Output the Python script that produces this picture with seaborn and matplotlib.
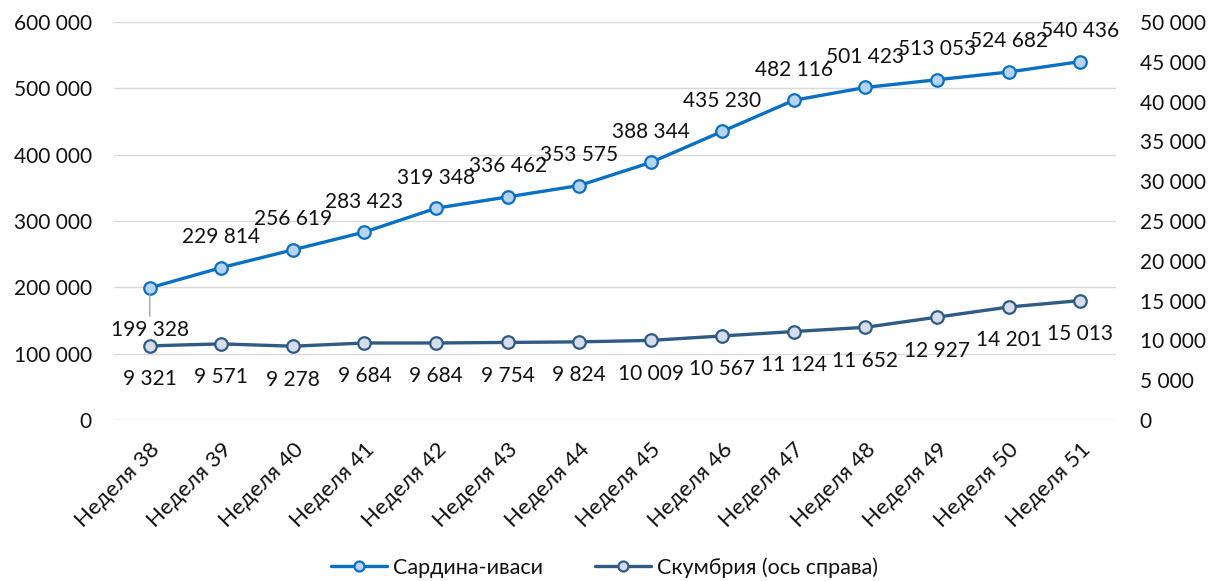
import matplotlib
matplotlib.use('Agg')
import matplotlib.pyplot as plt
import seaborn as sns
import pandas as pd
from matplotlib.ticker import FuncFormatter, MultipleLocator

# данные
weeks = ['Неделя 38', 'Неделя 39', 'Неделя 40', 'Неделя 41', 'Неделя 42', 'Неделя 43', 'Неделя 44',
         'Неделя 45', 'Неделя 46', 'Неделя 47', 'Неделя 48', 'Неделя 49', 'Неделя 50', 'Неделя 51']
sardine = [199328, 229814, 256619, 283423, 319348, 336462, 353575,
           388344, 435230, 482116, 501423, 513053, 524682, 540436]
mackerel = [9321, 9571, 9278, 9684, 9684, 9754, 9824,
            10009, 10567, 11124, 11652, 12927, 14201, 15013]
sardine_name = 'Сардина-иваси'
mackerel_name = 'Скумбрия (ось справа)'

df = pd.DataFrame({'week': weeks, 'sardine': sardine, 'mackerel': mackerel})

sns.set_style('white')
plt.rcParams['font.family'] = ['Lato', 'DejaVu Sans']
plt.rcParams['font.size'] = 15

c_sar = '#0A70C4'
c_mac = '#2F5B84'
txt = '#111111'

fig = plt.figure(figsize=(12.09, 5.81), dpi=100)
ax = fig.add_axes([0.0943, 0.277, 0.8287, 0.685])
ax2 = ax.twinx()

sns.lineplot(data=df, x='week', y='sardine', ax=ax, color=c_sar, linewidth=2.4,
             marker='o', markersize=9, markerfacecolor='#B7D3F2', markeredgecolor=c_sar,
             markeredgewidth=1.6, label=sardine_name, legend=False, zorder=3)
sns.lineplot(data=df, x='week', y='mackerel', ax=ax2, color=c_mac, linewidth=2.4,
             marker='o', markersize=9, markerfacecolor='#D5DDEA', markeredgecolor=c_mac,
             markeredgewidth=1.6, label=mackerel_name, legend=False, zorder=3)

fmt = FuncFormatter(lambda v, p: f'{int(v):,}'.replace(',', ' '))
ax.set_ylim(0, 600000)
ax.yaxis.set_major_locator(MultipleLocator(100000))
ax.yaxis.set_major_formatter(fmt)
ax2.set_ylim(0, 50000)
ax2.yaxis.set_major_locator(MultipleLocator(5000))
ax2.yaxis.set_major_formatter(fmt)
ax.set_xlim(-0.5, len(weeks) - 0.5)

ax.grid(axis='y', color='#D9D9D9', linewidth=1)
ax.set_axisbelow(True)
for a in (ax, ax2):
    for s in a.spines.values():
        s.set_visible(False)
    a.set_xlabel('')
    a.set_ylabel('')
ax.tick_params(axis='y', length=0, labelsize=15, colors=txt, pad=16)
ax.tick_params(axis='x', length=0, labelsize=16, colors=txt, pad=14)
ax2.tick_params(axis='y', length=0, labelsize=15, colors=txt, pad=17)
plt.setp(ax.get_xticklabels(), rotation=45, ha='right', rotation_mode='anchor')

# подписи данных
for i, v in enumerate(sardine):
    lbl = f'{v:,}'.replace(',', ' ')
    if i == 0:
        ax.annotate(lbl, (i, v), xytext=(0, -30), textcoords='offset points',
                    ha='center', va='center', fontsize=15, color=txt,
                    arrowprops=dict(arrowstyle='-', color='#A6A6A6', lw=1, shrinkA=0, shrinkB=5))
    else:
        ax.annotate(lbl, (i, v), xytext=(0, 22), textcoords='offset points',
                    ha='center', va='center', fontsize=15, color=txt)
for i, v in enumerate(mackerel):
    lbl = f'{v:,}'.replace(',', ' ')
    ax2.annotate(lbl, (i, v), xytext=(0, -24), textcoords='offset points',
                 ha='center', va='center', fontsize=15, color=txt)

h1, l1 = ax.get_legend_handles_labels()
h2, l2 = ax2.get_legend_handles_labels()
leg = fig.legend(h1 + h2, l1 + l2, loc='lower center', bbox_to_anchor=(0.5, -0.028), ncol=2,
                 frameon=False, fontsize=15.5, handlelength=2.6, handletextpad=0.3,
                 columnspacing=2.4, markerscale=0.8)
for t in leg.get_texts():
    t.set_color(txt)

fig.savefig('out.png', dpi=100)
